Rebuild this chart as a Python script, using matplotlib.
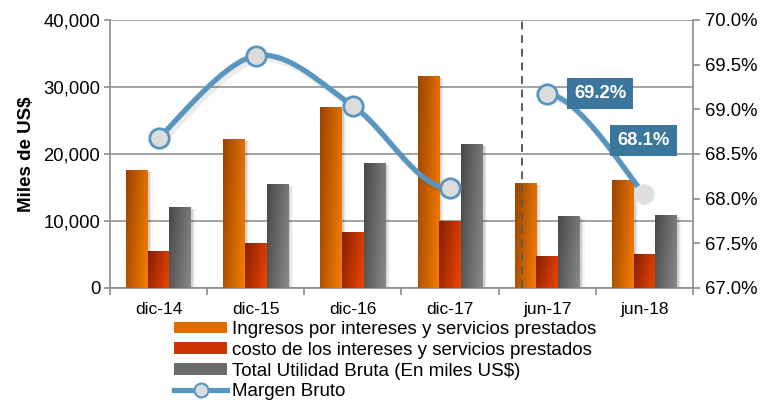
import matplotlib
matplotlib.use("Agg")
import matplotlib.pyplot as plt
import numpy as np
from matplotlib.colors import LinearSegmentedColormap
from matplotlib.patches import Patch
from matplotlib.lines import Line2D
from matplotlib.ticker import FuncFormatter, MultipleLocator

plt.rcParams['font.family'] = ['Liberation Sans', 'DejaVu Sans']

categories = ['dic-14', 'dic-15', 'dic-16', 'dic-17', 'jun-17', 'jun-18']
ingresos = [17600, 22200, 27000, 31600, 15700, 16100]
costo = [5500, 6700, 8400, 10000, 4800, 5100]
utilidad = [12100, 15500, 18700, 21500, 10700, 10900]
margen = [68.68, 69.60, 69.04, 68.12, 69.17, 68.05]
labels_margen = {4: '69.2%', 5: '68.1%'}

series_names = ['Ingresos por intereses y servicios prestados',
                'costo de los intereses y servicios prestados',
                'Total Utilidad Bruta (En miles US$)',
                'Margen Bruto']

grads = [('#9a4400', '#f77e00'), ('#862000', '#ee4500'), ('#474747', '#8a8a8a')]
line_color = '#5896bf'

fig = plt.figure(figsize=(7.65, 4.0), dpi=100)
ax = fig.add_axes([110 / 765, 112 / 400, 583 / 765, 268 / 400])
ax2 = ax.twinx()

x = np.arange(len(categories))
w = 0.223
gy, gx = np.mgrid[0:1:60j, 0:1:60j]
grad_img = 0.75 * gx + 0.25 * gy

for i, vals in enumerate([ingresos, costo, utilidad]):
    cmap = LinearSegmentedColormap.from_list('g%d' % i, grads[i])
    pos = x + (i - 1) * w
    # soft shadow to the right of each bar
    for k, a in enumerate([0.10, 0.06, 0.03]):
        ax.bar(pos + 0.02 + k * 0.015, np.array(vals) - 300, w,
               color='#000000', alpha=a, zorder=2, linewidth=0)
    bars = ax.bar(pos, vals, w, color=grads[i][1], zorder=3, linewidth=0)
    for b in bars:
        x0, y0 = b.get_x(), b.get_y()
        im = ax.imshow(grad_img, extent=[x0, x0 + b.get_width(), y0, y0 + b.get_height()],
                       cmap=cmap, aspect='auto', zorder=3.5, origin='upper')
        im.set_clip_path(b)

ax.set_xlim(-0.5, 5.5)
ax.set_ylim(0, 40000)
ax.yaxis.set_major_locator(MultipleLocator(10000))
ax.yaxis.set_major_formatter(FuncFormatter(lambda v, p: '{:,.0f}'.format(v)))
ax.grid(axis='y', color='#a3a3a3', linewidth=1.4, zorder=1)
ax.set_axisbelow(True)
ax.set_xticks(x)
ax.set_xticklabels(categories)
ax.set_xticks(np.arange(-0.5, 6, 1), minor=True)
ax.tick_params(axis='x', which='major', length=0, pad=10, labelsize=12.5)
ax.tick_params(axis='x', which='minor', length=5, color='#8c8c8c', width=1.2)
ax.tick_params(axis='y', length=4, color='#8c8c8c', width=1.2, labelsize=13.3, pad=3)
for s in ['left', 'bottom', 'right']:
    ax.spines[s].set_color('#8c8c8c')
    ax.spines[s].set_linewidth(1.2)
ax.spines['top'].set_visible(False)
ax.set_ylabel('Miles de US$', fontsize=13.5, fontweight='bold', labelpad=6)

# dashed separator between annual and half-year data
ax.axvline(3.74, color='#5a5a5a', linestyle=(0, (4, 3)), linewidth=1.4, zorder=4)


def catmull(xs, ys, n=40):
    px = np.concatenate([[xs[0]], xs, [xs[-1]]])
    py = np.concatenate([[ys[0]], ys, [ys[-1]]])
    segs = []
    for k in range(1, len(px) - 2):
        p0 = np.array([px[k], py[k]])
        p3 = np.array([px[k + 1], py[k + 1]])
        c1 = p0 + (np.array([px[k + 1], py[k + 1]]) - np.array([px[k - 1], py[k - 1]])) / 6
        c2 = p3 - (np.array([px[k + 2], py[k + 2]]) - np.array([px[k], py[k]])) / 6
        t = np.linspace(0, 1, n)[:, None]
        pts = ((1 - t) ** 3) * p0 + 3 * ((1 - t) ** 2) * t * c1 + 3 * (1 - t) * t ** 2 * c2 + t ** 3 * p3
        segs.append(pts)
    return segs


segs = catmull(x.astype(float), np.array(margen))
for k, seg in enumerate(segs):
    if k == 3:
        continue
    ax2.plot(seg[:, 0] + 0.03, seg[:, 1] - 0.04, color='#000000', alpha=0.08,
             linewidth=4.5, solid_capstyle='round', zorder=4)
    ax2.plot(seg[:, 0], seg[:, 1], color=line_color, linewidth=3.8,
             solid_capstyle='round', zorder=5)

ax2.plot(x[:5], margen[:5], linestyle='none', marker='o', markersize=14,
         markerfacecolor='#dcdcdc', markeredgecolor=line_color, markeredgewidth=2, zorder=6)
ax2.plot(x[5:], margen[5:], linestyle='none', marker='o', markersize=14,
         markerfacecolor='#dedede', markeredgecolor='#e6e6e6', markeredgewidth=1, zorder=6)

offsets = {4: (53, 1), 5: (-1, 54)}
for idx, txt in labels_margen.items():
    ax2.annotate(txt, (x[idx], margen[idx]), xytext=offsets[idx], textcoords='offset pixels',
                 ha='center', va='center', color='white', fontsize=13.3, fontweight='bold',
                 bbox=dict(boxstyle='square,pad=0.38', facecolor='#3b769c', edgecolor='none'),
                 zorder=7)

ax2.set_ylim(67.0, 70.0)
ax2.yaxis.set_major_locator(MultipleLocator(0.5))
ax2.yaxis.set_major_formatter(FuncFormatter(lambda v, p: '{:.1f}%'.format(v)))
ax2.tick_params(axis='y', length=5, color='#8c8c8c', width=1.2, labelsize=13.3, pad=4)
for s in ['left', 'bottom', 'top', 'right']:
    ax2.spines[s].set_visible(False)

handles = [Patch(facecolor='#e06c00'), Patch(facecolor='#c93400'), Patch(facecolor='#6a6a6a'),
           Line2D([0], [0], color=line_color, linewidth=3.8, marker='o', markersize=10,
                  markerfacecolor='#dcdcdc', markeredgecolor=line_color, markeredgewidth=1.5)]
fig.legend(handles, series_names, loc='upper left', bbox_to_anchor=(174 / 765, 1 - 321 / 400),
           frameon=False, fontsize=13.5, handlelength=2.85, handleheight=0.55, handletextpad=0.25,
           labelspacing=0.2, borderpad=0, borderaxespad=0)

fig.savefig('out.png', dpi=100)
